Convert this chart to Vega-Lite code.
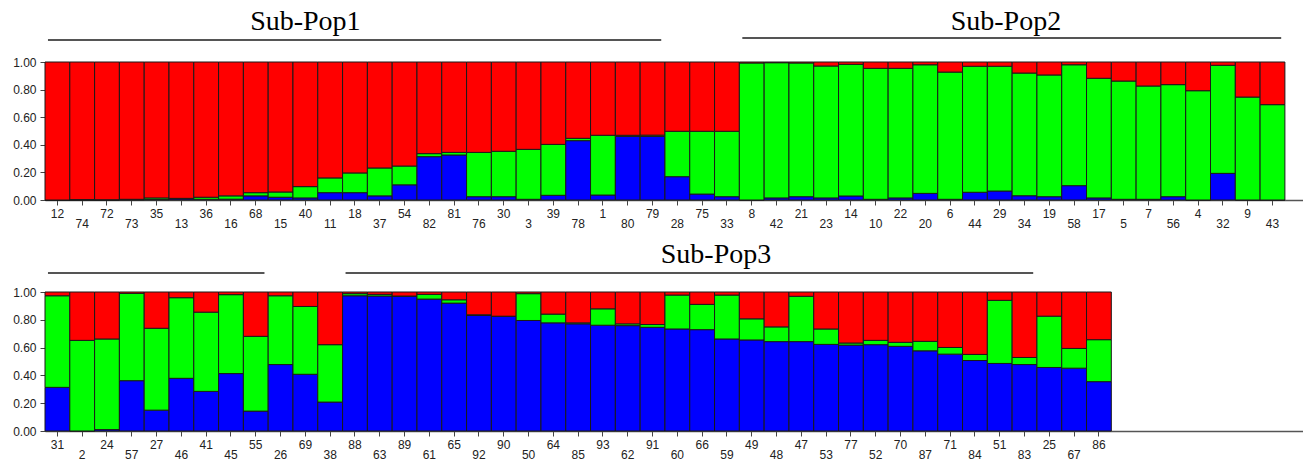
{
  "$schema": "https://vega.github.io/schema/vega-lite/v6.json",
  "background": "white",
  "padding": {"left": 12, "top": 7, "right": 0, "bottom": 0},
  "spacing": 92,
  "bounds": "flush",
  "config": {
    "view": {"stroke": null},
    "axis": {"labelFont": "Liberation Sans", "labelFontSize": 12, "labelColor": "#222", "tickColor": "#444", "tickSize": 5, "domainColor": "#555", "grid": false, "title": null, "labelOverlap": false},
    "axisX": {"labelAngle": 0, "labelBaseline": "top", "labelLineHeight": 10, "labelPadding": 3, "domainWidth": 1.5},
    "axisY": {"labelPadding": 4, "domainColor": "#333", "labelBaseline": "middle", "labelOverlap": false, "tickCount": 6, "format": ".2f", "values": [0, 0.2, 0.4, 0.6, 0.8, 1]}
  },
  "datasets": {
    "q": [
      {"p":1,"id":"12","B":0,"G":0,"R":1},
      {"p":1,"id":"74","B":0,"G":0.003,"R":0.997},
      {"p":1,"id":"72","B":0,"G":0.002,"R":0.998},
      {"p":1,"id":"73","B":0.002,"G":0.003,"R":0.995},
      {"p":1,"id":"35","B":0.003,"G":0.012,"R":0.985},
      {"p":1,"id":"13","B":0.008,"G":0.004,"R":0.988},
      {"p":1,"id":"36","B":0.005,"G":0.015,"R":0.98},
      {"p":1,"id":"16","B":0.006,"G":0.024,"R":0.97},
      {"p":1,"id":"68","B":0.03,"G":0.023,"R":0.947},
      {"p":1,"id":"15","B":0.02,"G":0.038,"R":0.942},
      {"p":1,"id":"40","B":0.015,"G":0.082,"R":0.903},
      {"p":1,"id":"11","B":0.053,"G":0.107,"R":0.84},
      {"p":1,"id":"18","B":0.053,"G":0.143,"R":0.804},
      {"p":1,"id":"37","B":0.03,"G":0.202,"R":0.768},
      {"p":1,"id":"54","B":0.11,"G":0.136,"R":0.754},
      {"p":1,"id":"82","B":0.314,"G":0.022,"R":0.664},
      {"p":1,"id":"81","B":0.326,"G":0.019,"R":0.655},
      {"p":1,"id":"76","B":0.024,"G":0.321,"R":0.655},
      {"p":1,"id":"30","B":0.024,"G":0.329,"R":0.647},
      {"p":1,"id":"3","B":0.005,"G":0.362,"R":0.633},
      {"p":1,"id":"39","B":0.034,"G":0.369,"R":0.597},
      {"p":1,"id":"78","B":0.43,"G":0.017,"R":0.553},
      {"p":1,"id":"1","B":0.036,"G":0.433,"R":0.531},
      {"p":1,"id":"80","B":0.461,"G":0.008,"R":0.531},
      {"p":1,"id":"79","B":0.461,"G":0.009,"R":0.53},
      {"p":1,"id":"28","B":0.169,"G":0.329,"R":0.502},
      {"p":1,"id":"75","B":0.043,"G":0.455,"R":0.502},
      {"p":1,"id":"33","B":0.024,"G":0.474,"R":0.502},
      {"p":1,"id":"8","B":0,"G":0.993,"R":0.007},
      {"p":1,"id":"42","B":0.015,"G":0.98,"R":0.005},
      {"p":1,"id":"21","B":0.024,"G":0.969,"R":0.007},
      {"p":1,"id":"23","B":0.015,"G":0.956,"R":0.029},
      {"p":1,"id":"14","B":0.029,"G":0.954,"R":0.017},
      {"p":1,"id":"10","B":0.005,"G":0.949,"R":0.046},
      {"p":1,"id":"22","B":0.015,"G":0.939,"R":0.046},
      {"p":1,"id":"20","B":0.048,"G":0.932,"R":0.02},
      {"p":1,"id":"6","B":0.005,"G":0.922,"R":0.073},
      {"p":1,"id":"44","B":0.056,"G":0.913,"R":0.031},
      {"p":1,"id":"29","B":0.065,"G":0.904,"R":0.031},
      {"p":1,"id":"34","B":0.031,"G":0.889,"R":0.08},
      {"p":1,"id":"19","B":0.024,"G":0.882,"R":0.094},
      {"p":1,"id":"58","B":0.104,"G":0.876,"R":0.02},
      {"p":1,"id":"17","B":0.015,"G":0.867,"R":0.118},
      {"p":1,"id":"5","B":0.005,"G":0.857,"R":0.138},
      {"p":1,"id":"7","B":0.005,"G":0.821,"R":0.174},
      {"p":1,"id":"56","B":0.024,"G":0.812,"R":0.164},
      {"p":1,"id":"4","B":0,"G":0.792,"R":0.208},
      {"p":1,"id":"32","B":0.193,"G":0.783,"R":0.024},
      {"p":1,"id":"9","B":0,"G":0.746,"R":0.254},
      {"p":1,"id":"43","B":0,"G":0.691,"R":0.309},
      {"p":2,"id":"31","B":0.314,"G":0.659,"R":0.027},
      {"p":2,"id":"2","B":0,"G":0.652,"R":0.348},
      {"p":2,"id":"24","B":0.01,"G":0.652,"R":0.338},
      {"p":2,"id":"57","B":0.362,"G":0.628,"R":0.01},
      {"p":2,"id":"27","B":0.15,"G":0.589,"R":0.261},
      {"p":2,"id":"46","B":0.379,"G":0.58,"R":0.041},
      {"p":2,"id":"41","B":0.285,"G":0.57,"R":0.145},
      {"p":2,"id":"45","B":0.413,"G":0.568,"R":0.019},
      {"p":2,"id":"55","B":0.143,"G":0.538,"R":0.319},
      {"p":2,"id":"26","B":0.478,"G":0.495,"R":0.027},
      {"p":2,"id":"69","B":0.408,"G":0.488,"R":0.104},
      {"p":2,"id":"38","B":0.208,"G":0.413,"R":0.379},
      {"p":2,"id":"88","B":0.973,"G":0.015,"R":0.012},
      {"p":2,"id":"63","B":0.971,"G":0.012,"R":0.017},
      {"p":2,"id":"89","B":0.969,"G":0.002,"R":0.029},
      {"p":2,"id":"61","B":0.949,"G":0.034,"R":0.017},
      {"p":2,"id":"65","B":0.92,"G":0.024,"R":0.056},
      {"p":2,"id":"92","B":0.831,"G":0.005,"R":0.164},
      {"p":2,"id":"90","B":0.824,"G":0.002,"R":0.174},
      {"p":2,"id":"50","B":0.795,"G":0.193,"R":0.012},
      {"p":2,"id":"64","B":0.778,"G":0.063,"R":0.159},
      {"p":2,"id":"85","B":0.771,"G":0.007,"R":0.222},
      {"p":2,"id":"93","B":0.761,"G":0.118,"R":0.121},
      {"p":2,"id":"62","B":0.758,"G":0.013,"R":0.229},
      {"p":2,"id":"91","B":0.746,"G":0.02,"R":0.234},
      {"p":2,"id":"60","B":0.734,"G":0.244,"R":0.022},
      {"p":2,"id":"66","B":0.729,"G":0.182,"R":0.089},
      {"p":2,"id":"59","B":0.662,"G":0.316,"R":0.022},
      {"p":2,"id":"49","B":0.655,"G":0.152,"R":0.193},
      {"p":2,"id":"48","B":0.643,"G":0.106,"R":0.251},
      {"p":2,"id":"47","B":0.643,"G":0.326,"R":0.031},
      {"p":2,"id":"53","B":0.623,"G":0.111,"R":0.266},
      {"p":2,"id":"77","B":0.618,"G":0.015,"R":0.367},
      {"p":2,"id":"52","B":0.621,"G":0.031,"R":0.348},
      {"p":2,"id":"70","B":0.609,"G":0.029,"R":0.362},
      {"p":2,"id":"87","B":0.577,"G":0.068,"R":0.355},
      {"p":2,"id":"71","B":0.553,"G":0.048,"R":0.399},
      {"p":2,"id":"84","B":0.507,"G":0.044,"R":0.449},
      {"p":2,"id":"51","B":0.486,"G":0.454,"R":0.06},
      {"p":2,"id":"83","B":0.478,"G":0.051,"R":0.471},
      {"p":2,"id":"25","B":0.457,"G":0.369,"R":0.174},
      {"p":2,"id":"67","B":0.452,"G":0.142,"R":0.406},
      {"p":2,"id":"86","B":0.355,"G":0.302,"R":0.343}
    ],
    "ann": [
      {"p":1,"t":"rule","id":"12","id2":"79","y":1.16},
      {"p":1,"t":"rule","id":"8","id2":"43","y":1.174},
      {"p":1,"t":"t1","id":"40","y":1.232,"label":"Sub-Pop1"},
      {"p":1,"t":"t2","id":"29","y":1.232,"label":"Sub-Pop2"},
      {"p":2,"t":"rule","id":"31","id2":"55","y":1.137},
      {"p":2,"t":"rule","id":"88","id2":"83","y":1.137},
      {"p":2,"t":"t3","id":"59","y":1.209,"label":"Sub-Pop3"}
    ]
  },
  "vconcat": [
    {
      "width": 1259,
      "height": 138,
      "layer": [
        {
          "data": {"name": "q"},
          "transform": [{"filter": "datum.p == 1"}, {"fold": ["B", "G", "R"], "as": ["k", "v"]}],
          "mark": {"type": "bar", "stroke": "#1a1a1a", "strokeWidth": 1},
          "encoding": {
            "x": {"field": "id", "type": "nominal", "title": null,
              "scale": {"domain": ["12","74","72","73","35","13","36","16","68","15","40","11","18","37","54","82","81","76","30","3","39","78","1","80","79","28","75","33","8","42","21","23","14","10","22","20","6","44","29","34","19","58","17","5","7","56","4","32","9","43"], "paddingInner": 0, "paddingOuter": 0.385, "align": 0},
              "axis": {"labelExpr": "indexof(['74','73','13','16','15','11','37','82','76','3','78','80','28','33','42','23','10','20','44','34','58','5','56','32','43'], datum.label) >= 0 ? ['', datum.label] : datum.label"}},
            "y": {"field": "v", "type": "quantitative", "stack": "zero", "title": null,
              "scale": {"domain": [0, 1], "nice": false},
              "axis": {"values": [0, 0.2, 0.4, 0.6, 0.8, 1], "format": ".2f", "labelOverlap": false}},
            "color": {"field": "k", "type": "nominal", "legend": null,
              "scale": {"domain": ["B", "G", "R"], "range": ["#0000ff", "#00ff00", "#ff0000"]}},
            "order": {"field": "k", "sort": "ascending"}
          }
        },
        {
          "data": {"name": "ann"},
          "transform": [{"filter": "datum.p == 1 && datum.t == 'rule'"}],
          "mark": {"type": "rule", "clip": false, "stroke": "#555", "strokeWidth": 2},
          "encoding": {
            "x": {"field": "id", "type": "nominal", "bandPosition": 0.12},
            "x2": {"field": "id2", "bandPosition": 0.85},
            "y": {"field": "y", "type": "quantitative", "axis": {"values": [0, 0.2, 0.4, 0.6, 0.8, 1], "format": ".2f", "labelOverlap": false}}
          }
        },
        {
          "data": {"name": "ann"},
          "transform": [{"filter": "datum.t == 't1'"}],
          "mark": {"type": "text", "clip": false, "font": "Liberation Serif", "fontSize": 28, "baseline": "alphabetic", "align": "center", "color": "#000"},
          "encoding": {
            "x": {"field": "id", "type": "nominal", "bandPosition": 0.5},
            "y": {"field": "y", "type": "quantitative", "axis": {"values": [0, 0.2, 0.4, 0.6, 0.8, 1], "format": ".2f", "labelOverlap": false}},
            "text": {"field": "label"}
          }
        },
        {
          "data": {"name": "ann"},
          "transform": [{"filter": "datum.t == 't2'"}],
          "mark": {"type": "text", "clip": false, "font": "Liberation Serif", "fontSize": 28, "baseline": "alphabetic", "align": "center", "color": "#000"},
          "encoding": {
            "x": {"field": "id", "type": "nominal", "bandPosition": 0.75},
            "y": {"field": "y", "type": "quantitative", "axis": {"values": [0, 0.2, 0.4, 0.6, 0.8, 1], "format": ".2f", "labelOverlap": false}},
            "text": {"field": "label"}
          }
        }
      ]
    },
    {
      "width": 1259,
      "height": 139,
      "layer": [
        {
          "data": {"name": "q"},
          "transform": [{"filter": "datum.p == 2"}, {"fold": ["B", "G", "R"], "as": ["k", "v"]}],
          "mark": {"type": "bar", "stroke": "#1a1a1a", "strokeWidth": 1},
          "encoding": {
            "x": {"field": "id", "type": "nominal", "title": null,
              "scale": {"domain": ["31","2","24","57","27","46","41","45","55","26","69","38","88","63","89","61","65","92","90","50","64","85","93","62","91","60","66","59","49","48","47","53","77","52","70","87","71","84","51","83","25","67","86","_a","_b","_c","_d","_e","_f","_g"], "paddingInner": 0, "paddingOuter": 0.385, "align": 0},
              "axis": {"values": ["31","2","24","57","27","46","41","45","55","26","69","38","88","63","89","61","65","92","90","50","64","85","93","62","91","60","66","59","49","48","47","53","77","52","70","87","71","84","51","83","25","67","86"],
                "labelExpr": "indexof(['2','57','46','45','26','38','63','61','92','50','85','62','60','59','48','53','52','87','84','83','67'], datum.label) >= 0 ? ['', datum.label] : datum.label"}},
            "y": {"field": "v", "type": "quantitative", "stack": "zero", "title": null,
              "scale": {"domain": [0, 1], "nice": false},
              "axis": {"values": [0, 0.2, 0.4, 0.6, 0.8, 1], "format": ".2f", "labelOverlap": false}},
            "color": {"field": "k", "type": "nominal", "legend": null,
              "scale": {"domain": ["B", "G", "R"], "range": ["#0000ff", "#00ff00", "#ff0000"]}},
            "order": {"field": "k", "sort": "ascending"}
          }
        },
        {
          "data": {"name": "ann"},
          "transform": [{"filter": "datum.p == 2 && datum.t == 'rule'"}],
          "mark": {"type": "rule", "clip": false, "stroke": "#555", "strokeWidth": 2},
          "encoding": {
            "x": {"field": "id", "type": "nominal", "bandPosition": 0.12},
            "x2": {"field": "id2", "bandPosition": 0.85},
            "y": {"field": "y", "type": "quantitative", "axis": {"values": [0, 0.2, 0.4, 0.6, 0.8, 1], "format": ".2f", "labelOverlap": false}}
          }
        },
        {
          "data": {"name": "ann"},
          "transform": [{"filter": "datum.t == 't3'"}],
          "mark": {"type": "text", "clip": false, "font": "Liberation Serif", "fontSize": 28, "baseline": "alphabetic", "align": "center", "color": "#000"},
          "encoding": {
            "x": {"field": "id", "type": "nominal", "bandPosition": 0.06},
            "y": {"field": "y", "type": "quantitative", "axis": {"values": [0, 0.2, 0.4, 0.6, 0.8, 1], "format": ".2f", "labelOverlap": false}},
            "text": {"field": "label"}
          }
        }
      ]
    }
  ]
}
